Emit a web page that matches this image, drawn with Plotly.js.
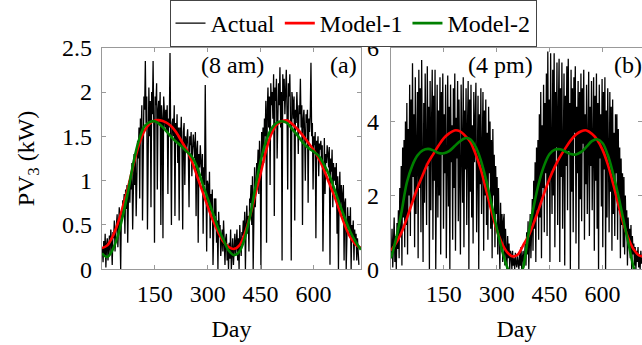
<!DOCTYPE html>
<html>
<head>
<meta charset="utf-8">
<script src="https://cdn.plot.ly/plotly-3.0.1.min.js"></script>
<style>
body{margin:0;padding:0;background:#fff;}
#fontwarm{font-family:'Liberation Serif';font-size:24px;visibility:hidden;height:30px;}
</style>
</head>
<body>
<div id="chart" style="width:642px;height:345px"></div>
<div id="fontwarm">Actual Model Day PV 0123456789 (am pm)</div>
<script>
// ---- Data ----
// Actual: one reading every 2 days, days 1..729
const actualStart = 1, actualStep = 2;
const actual8am = [
  0.25,0.08,0.32,0.15,0.40,0.02,0.28,0.35,0.10,0.22,
  0.38,0.18,0.45,0.30,0.05,0.42,0.35,0.55,0.20,0.40,
  0.50,0.62,0.25,0.58,0.70,0.45,0.00,0.65,0.55,0.78,
  0.72,0.85,0.40,0.90,0.68,0.95,0.30,0.82,1.00,0.75,
  1.05,0.90,1.20,0.45,1.15,1.30,0.95,1.25,0.60,1.38,
  1.45,1.25,1.60,0.80,1.70,1.50,1.85,0.55,1.75,1.95,
  1.80,2.35,1.65,1.95,0.45,1.85,2.05,1.50,1.90,0.70,
  2.00,1.75,2.35,1.60,0.30,1.95,1.85,2.10,0.90,1.80,
  1.90,1.65,2.00,0.50,1.85,1.70,0.35,1.95,1.75,1.60,
  1.80,1.55,1.85,0.85,1.70,1.60,2.44,1.75,0.50,1.65,
  1.70,1.50,1.85,0.60,1.65,1.45,1.75,1.20,1.60,0.55,
  1.60,1.40,1.72,1.30,0.45,1.55,1.65,0.95,1.50,1.35,
  1.45,1.58,1.30,0.70,1.50,1.40,1.55,1.05,1.35,1.52,
  1.40,1.25,1.55,0.60,1.35,1.45,0.30,1.30,1.15,1.40,
  1.20,1.05,1.30,0.40,1.15,0.95,2.08,1.10,0.20,1.00,
  0.95,0.70,1.10,0.35,0.85,0.65,0.90,0.05,0.75,0.80,
  0.60,0.80,0.30,0.55,0.00,0.65,0.45,0.50,0.15,0.40,
  0.45,0.20,0.55,0.30,0.05,0.35,0.40,0.10,0.28,0.00,
  0.30,0.12,0.45,0.00,0.25,0.35,0.05,0.20,0.40,0.15,
  0.25,0.45,0.10,0.35,0.00,0.50,0.30,0.15,0.42,0.38,
  0.55,0.35,0.65,0.00,0.50,0.72,0.40,0.60,0.20,0.80,
  0.75,0.95,0.50,1.05,0.00,0.90,1.15,0.70,1.00,1.20,
  1.10,1.35,0.85,1.45,1.25,0.00,1.55,1.30,1.60,1.20,
  1.70,1.50,1.90,0.30,1.80,2.05,1.60,1.95,0.95,2.10,
  1.85,2.00,1.70,2.20,0.60,2.05,1.90,2.15,1.25,1.95,
  2.10,1.85,2.28,1.60,2.00,0.10,2.20,1.90,2.15,1.75,
  2.05,2.25,1.80,0.90,2.10,1.95,2.20,1.70,0.10,2.00,
  1.90,1.70,1.95,0.55,1.80,1.65,2.00,1.75,1.30,1.85,
  1.75,2.15,1.60,1.85,0.50,1.70,1.80,1.55,1.00,1.75,
  1.65,1.80,0.75,1.70,1.55,1.75,2.33,1.50,1.65,0.90,
  1.50,1.40,1.55,0.35,1.45,1.30,1.50,1.05,1.42,1.35,
  1.45,1.25,1.40,0.20,1.35,1.48,0.85,1.30,1.20,1.40,
  1.30,1.15,1.38,0.05,1.25,1.10,1.35,0.70,1.20,1.00,
  1.15,0.95,1.20,0.40,1.05,0.00,0.90,1.10,0.60,0.95,
  0.85,0.60,0.95,0.10,0.75,0.80,0.00,0.65,0.70,0.45,
  0.60,0.40,0.70,0.00,0.50,0.35,0.55,0.10,0.45,0.30,
  0.40,0.10,0.35,0.20,0.05
];
const actual4pm = [
  0.30,1.10,0.05,0.70,1.40,0.20,0.90,0.00,1.25,0.55,
  1.60,0.30,2.20,0.90,2.80,0.10,3.30,1.40,3.50,0.60,
  4.00,1.20,4.50,0.40,3.80,2.00,5.00,0.90,4.60,1.80,
  5.58,2.50,4.20,0.60,5.20,1.50,3.60,4.80,0.30,5.40,
  2.20,4.90,1.00,5.67,3.00,0.20,4.50,1.80,5.30,3.40,
  1.20,5.50,2.80,4.40,0.00,5.10,1.60,3.90,5.40,0.80,
  4.70,2.40,5.40,0.00,3.60,5.00,1.40,4.30,2.00,5.20,
  0.40,4.80,3.10,5.30,1.10,4.20,2.60,5.00,0.30,3.80,
  5.25,1.70,4.40,0.00,5.00,2.90,3.90,0.80,4.90,2.20,
  5.30,0.50,4.10,3.00,5.10,1.30,4.60,2.50,0.40,5.00,
  3.50,1.80,5.20,0.60,4.30,2.70,4.90,1.20,3.80,5.10,
  0.00,4.60,2.10,5.00,1.40,3.90,0.70,4.80,2.90,4.30,
  5.05,1.00,3.60,4.70,0.00,4.20,2.30,4.90,1.50,3.40,
  4.80,0.50,4.30,2.00,4.60,1.20,3.70,0.80,4.40,2.60,
  4.00,1.10,3.50,0.30,3.80,2.00,3.10,0.60,2.80,1.50,
  2.50,0.40,2.20,1.00,0.00,1.80,0.70,1.50,0.20,1.30,
  1.50,0.10,1.10,0.50,0.00,0.90,0.30,0.70,0.00,0.50,
  0.40,0.00,0.50,0.10,0.30,0.00,0.45,0.15,0.05,0.35,
  0.20,0.00,0.45,0.10,0.60,0.00,0.30,0.50,0.05,0.40,
  0.70,0.10,1.00,0.40,1.30,0.00,0.90,1.50,0.30,1.20,
  1.90,0.50,2.40,1.10,2.90,0.20,3.30,1.60,3.50,0.80,
  4.20,1.40,4.80,0.30,3.90,2.20,5.00,1.00,4.50,2.60,
  5.30,0.90,5.90,2.40,4.60,0.20,5.85,3.20,1.50,5.40,
  2.00,5.85,0.60,4.80,3.30,5.60,1.20,4.20,5.70,0.20,
  4.90,2.50,5.60,1.10,3.90,5.30,0.10,4.70,2.80,5.50,
  1.60,5.70,3.20,4.50,0.00,5.40,2.10,4.90,1.00,5.20,
  3.70,5.50,0.70,4.40,2.60,5.10,0.00,4.80,1.90,5.30,
  1.30,4.90,3.40,5.40,0.80,4.20,2.30,5.00,1.50,4.60,
  5.35,0.90,4.40,2.80,5.10,1.60,3.80,5.20,0.50,4.70,
  2.40,5.30,1.10,4.50,0.00,5.00,3.00,4.20,1.70,5.15,
  0.60,4.80,2.70,5.20,0.00,4.30,1.40,4.90,3.20,1.00,
  4.80,2.10,4.40,0.50,4.60,1.50,3.70,0.90,4.20,2.60,
  4.20,0.80,3.80,1.60,3.30,0.30,3.00,1.20,2.60,0.60,
  2.50,0.40,2.00,1.00,1.60,0.10,1.40,0.70,1.10,0.30,
  1.20,0.00,0.90,0.40,0.70,0.10,0.60,0.00,0.50,0.20,
  0.60,0.05,0.40,0.00,0.50,0.15,0.30,0.00,0.45,0.10,
  0.40,0.00,0.30,0.10,0.25
];
// Models: one value every 15 days, days 0..735
const modelStart = 0, modelStep = 15;
const model1_8am = [0.24,0.27,0.37,0.52,0.72,0.94,1.19,1.41,1.56,1.64,1.68,1.68,1.66,1.62,1.55,1.45,1.35,1.22,1.05,0.88,0.71,0.55,0.42,0.31,0.25,
  0.23,0.27,0.40,0.60,0.84,1.08,1.33,1.52,1.63,1.67,1.68,1.64,1.58,1.51,1.43,1.35,1.25,1.12,0.97,0.82,0.65,0.49,0.36,0.28,0.24];
const model2_8am = [0.18,0.14,0.22,0.38,0.62,0.90,1.22,1.46,1.61,1.66,1.67,1.63,1.57,1.50,1.44,1.39,1.33,1.27,1.15,0.97,0.80,0.63,0.46,0.33,0.21,
  0.16,0.20,0.35,0.60,0.92,1.22,1.44,1.58,1.65,1.67,1.65,1.58,1.51,1.43,1.37,1.33,1.28,1.18,1.06,0.90,0.73,0.57,0.42,0.31,0.22];
const model1_4pm = [0.50,0.72,1.00,1.38,1.80,2.20,2.55,2.88,3.12,3.35,3.55,3.68,3.76,3.74,3.62,3.45,3.12,2.70,2.15,1.58,1.07,0.70,0.46,0.35,0.40,
  0.65,0.90,1.25,1.65,2.07,2.45,2.78,3.05,3.28,3.49,3.65,3.74,3.76,3.67,3.51,3.24,2.85,2.33,1.76,1.22,0.80,0.52,0.37,0.37,0.50];
const model2_4pm = [0.30,0.85,1.56,2.35,2.80,3.08,3.22,3.26,3.22,3.15,3.14,3.20,3.33,3.46,3.55,3.52,3.32,2.95,2.42,1.78,1.12,0.52,0.05,-0.30,-0.35,
  0.05,0.95,1.70,2.35,2.82,3.12,3.24,3.25,3.19,3.12,3.11,3.18,3.32,3.47,3.52,3.42,3.10,2.60,2.00,1.32,0.65,0.00,-0.40,-0.50,-0.40];
const xTicks = [150,300,450,600];
const seriesNames = ['Actual','Model-1','Model-2'];
const seriesColors = ['#000000','#ff0000','#008000'];

const daysOf = (arr, start, step) => arr.map((_, i) => start + step * i);

const W = 642, H = 345;
const plotTop = 47.7, plotBot = 269.3;
const yDom = [(H - plotBot) / H, (H - plotTop) / H];
// right panel is cut by the picture edge: same scale as the left panel (259 px for 735 days)
const pxPerDay = 259 / 735;
const rightMax = (W - 391) / pxPerDay;
const FONT = 'Liberation Serif';

function mk(x, y, k, xa, ya, show) {
  return {
    x: x, y: y, type: 'scatter', mode: 'lines', name: seriesNames[k],
    xaxis: xa, yaxis: ya, showlegend: show, legendgroup: seriesNames[k],
    line: {color: seriesColors[k], width: k === 0 ? 1.3 : 2.6, shape: k === 0 ? 'linear' : 'spline'},
    hoverinfo: 'skip'
  };
}

const traces = [
  mk(daysOf(actual8am, actualStart, actualStep), actual8am, 0, 'x', 'y', true),
  mk(daysOf(model1_8am, modelStart, modelStep), model1_8am, 1, 'x', 'y', true),
  mk(daysOf(model2_8am, modelStart, modelStep), model2_8am, 2, 'x', 'y', true),
  mk(daysOf(actual4pm, actualStart, actualStep), actual4pm, 0, 'x2', 'y2', false),
  mk(daysOf(model1_4pm, modelStart, modelStep), model1_4pm, 1, 'x2', 'y2', false),
  mk(daysOf(model2_4pm, modelStart, modelStep), model2_4pm, 2, 'x2', 'y2', false)
];

const tf = () => ({family: FONT, size: 24, color: '#000'});
const axCommon = {
  ticks: 'inside', ticklen: 4, tickcolor: '#999', tickwidth: 1,
  showline: true, linecolor: '#999', linewidth: 1.2, mirror: 'allticks',
  showgrid: false, zeroline: false, fixedrange: true
};
const layout = {
  width: W, height: H,
  margin: {l: 0, r: 0, t: 0, b: 0},
  paper_bgcolor: '#fff', plot_bgcolor: '#fff',
  font: tf(),
  showlegend: true,
  legend: {orientation: 'h', x: 353 / W, xanchor: 'center', y: 1, yanchor: 'top',
           bordercolor: '#444', borderwidth: 1, bgcolor: '#fff',
           font: tf(), itemwidth: 30, traceorder: 'normal'},
  xaxis: Object.assign({}, axCommon, {domain: [102 / W, 361 / W], range: [0, 735], tickvals: xTicks, anchor: 'y', tickfont: tf(),
          ticklabelstandoff: 3, title: {text: 'Day', standoff: 13, font: tf()}}),
  yaxis: Object.assign({}, axCommon, {domain: yDom, range: [0, 2.5], dtick: 0.5, tick0: 0, anchor: 'x', tickfont: tf(),
          ticklabelstandoff: 4, title: {text: 'PV<sub>3</sub> (kW)', standoff: 20, font: tf()}}),
  xaxis2: Object.assign({}, axCommon, {domain: [391 / W, 1], range: [0, rightMax], tickvals: xTicks, anchor: 'y2', tickfont: tf(),
          ticklabelstandoff: 3, title: {text: 'Day', standoff: 13, font: tf()}}),
  yaxis2: Object.assign({}, axCommon, {domain: yDom, range: [0, 6], dtick: 2, tick0: 0, anchor: 'x2', tickfont: tf(),
          ticklabelstandoff: 6}),
  annotations: [
    {text: '(8 am)', xref: 'paper', yref: 'paper', x: 232 / W, y: (H - 65) / H, xanchor: 'center', yanchor: 'middle', showarrow: false, font: tf()},
    {text: '(a)', xref: 'paper', yref: 'paper', x: 359 / W, y: (H - 65) / H, xanchor: 'right', yanchor: 'middle', showarrow: false, font: tf()},
    {text: '(4 pm)', xref: 'paper', yref: 'paper', x: 500 / W, y: (H - 65) / H, xanchor: 'center', yanchor: 'middle', showarrow: false, font: tf()},
    {text: '(b)', xref: 'paper', yref: 'paper', x: 612 / W, y: (H - 65) / H, xanchor: 'left', yanchor: 'middle', showarrow: false, font: tf()}
  ]
};
Plotly.newPlot('chart', traces, layout, {displayModeBar: false});
if (document.fonts && document.fonts.ready) {
  document.fonts.ready.then(() => Plotly.redraw('chart'));
}
</script>
</body>
</html>
